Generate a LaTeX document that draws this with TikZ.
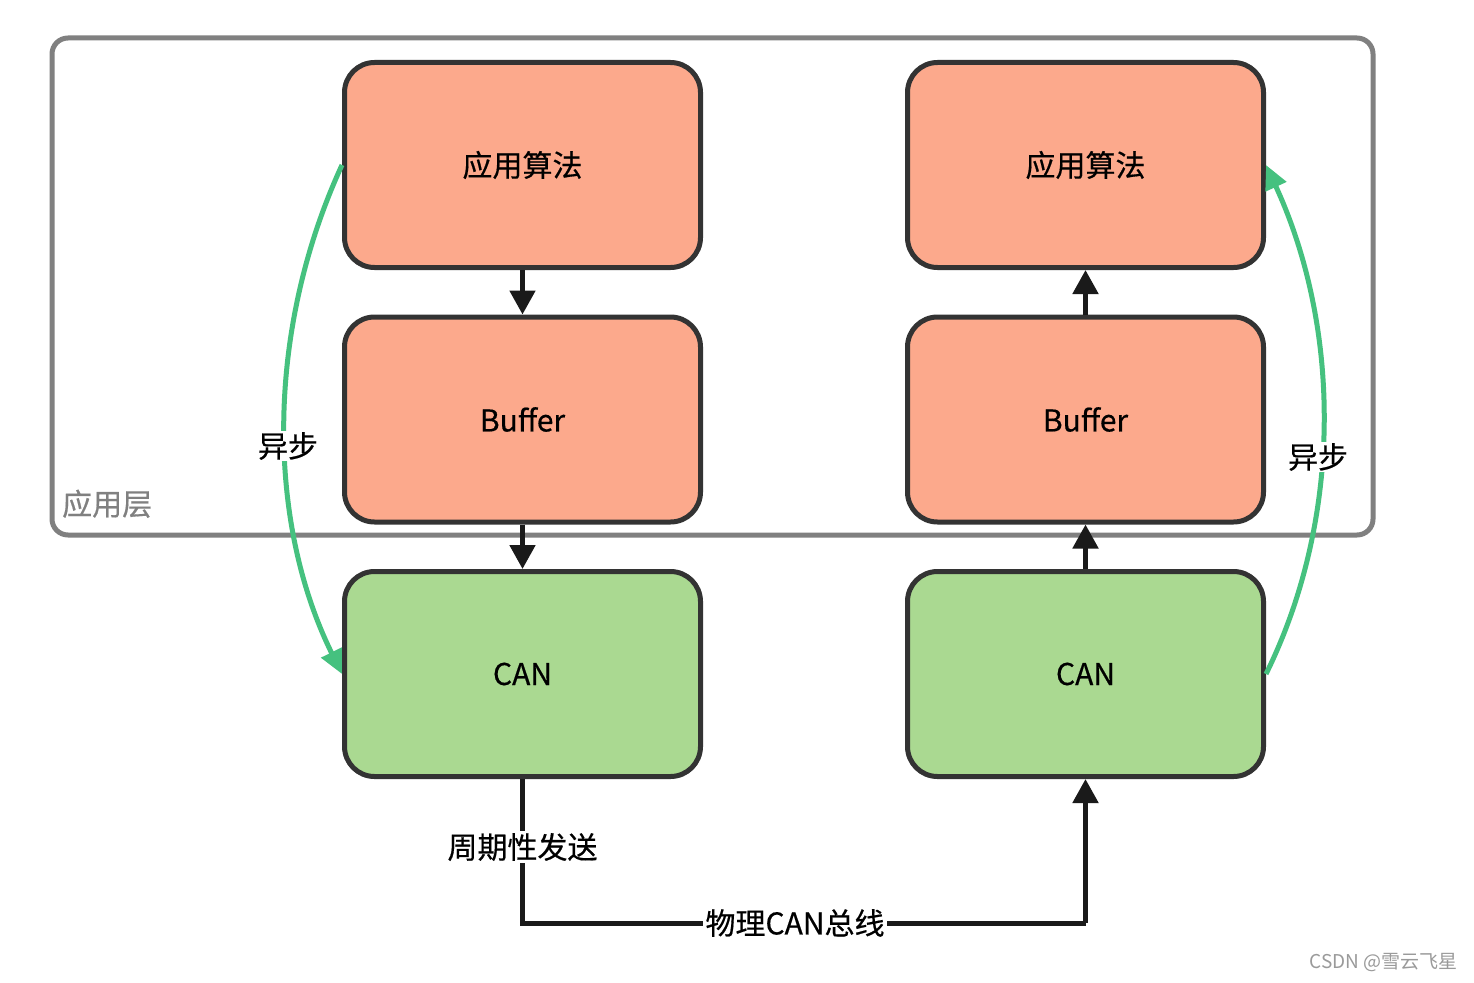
\documentclass[tikz,border=0pt]{standalone}
\usepackage{fontspec}
\setmainfont{Noto Sans CJK SC}
\newfontfamily\med{Noto Sans CJK SC}[FakeBold=0.5]
\usetikzlibrary{arrows.meta}
\definecolor{salmon}{HTML}{FCA98C}
\definecolor{leaf}{HTML}{AAD991}
\definecolor{edge}{HTML}{333333}
\definecolor{arr}{HTML}{1A1A1A}
\definecolor{grn}{HTML}{45C17F}
\definecolor{grp}{HTML}{808080}
\tikzset{
  box/.style={draw=edge, line width=5pt, rounded corners=30pt, minimum width=356pt, minimum height=205pt, inner sep=0pt, font=\med\fontsize{30}{36}\selectfont},
  upbox/.style={box, fill=salmon},
  canbox/.style={box, fill=leaf},
  flow/.style={draw=arr, line width=5pt, -{Triangle[length=24pt,width=25pt]}},
  plain/.style={draw=arr, line width=5pt},
  async/.style={draw=grn, line width=5pt, -{Triangle[length=24pt,width=22pt]}},
  lbl/.style={fill=white, inner sep=2pt, font=\med\fontsize{30}{36}\selectfont, text=black}
}
\begin{document}
\begin{tikzpicture}[x=1pt,y=-1pt]
\useasboundingbox[fill=white] (0,0) rectangle (1474,982);
% application layer group
\node[draw=grp, line width=5pt, rounded corners=16pt, minimum width=1321pt, minimum height=497pt, inner sep=0pt] (grp) at (712.5,286.5) {};
\node[anchor=south west, text=grp, font=\med\fontsize{30}{36}\selectfont, inner sep=0pt] (grplbl) at (62,518) {应用层};
% left column
\node[upbox] (la) at (522.5,165) {应用算法};
\node[upbox] (lb) at (522.5,419.5) {Buffer};
\node[canbox] (lc) at (522.5,674) {CAN};
% right column
\node[upbox] (ra) at (1085.5,165) {应用算法};
\node[upbox] (rb) at (1085.5,419.5) {Buffer};
\node[canbox] (rc) at (1085.5,674) {CAN};
% vertical arrows
\draw[flow] (la.south) -- (lb.north);
\draw[flow] (lb.south) -- (lc.north);
\draw[flow] (rb.north) -- (ra.south);
\draw[flow] (rc.north) -- (rb.south);
% bus
\coordinate (bl) at (522.5,923);
\coordinate (br) at (1085.5,923);
\draw[plain, line join=miter] (lc.south) -- (bl) -- (br);
\draw[flow] (br) -- (rc.south);
\node[lbl] (send) at (522.5,847) {周期性发送};
\node[lbl] (bus) at (795,923) {物理CAN总线};
% async curves
\draw[async] (la.west) .. controls (266,330) and (266,520) .. (lc.west);
\node[lbl, inner sep=1pt] (asl) at (288,446) {异步};
\draw[async] (rc.east) .. controls (1342,520) and (1342,330) .. (ra.east);
\node[lbl, inner sep=1pt] (asr) at (1318,457) {异步};
% credit
\node[anchor=east, text=grp!80, font=\fontsize{19}{23}\selectfont, inner sep=0pt] (credit) at (1458,963) {CSDN @雪云飞星};
\end{tikzpicture}
\end{document}
